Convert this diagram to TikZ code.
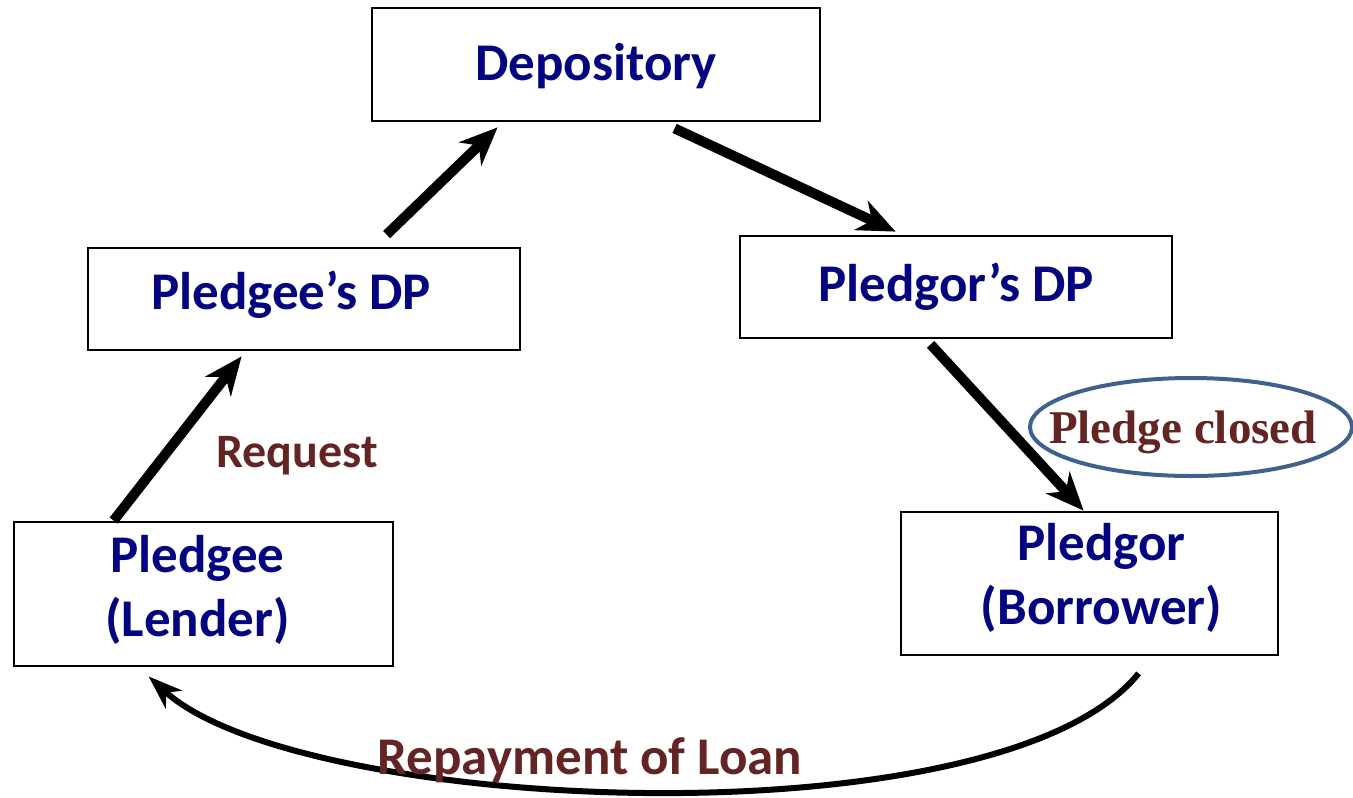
\documentclass[tikz,border=0pt]{standalone}
\usepackage{fontspec}
\setmainfont{Carlito}
\newfontfamily\serifbold{Liberation Serif}
\usetikzlibrary{arrows.meta,shapes.geometric,calc}
\definecolor{navy}{RGB}{4,4,128}
\definecolor{maroon}{RGB}{99,37,35}
\definecolor{ringblue}{RGB}{62,98,144}
\begin{document}
\begin{tikzpicture}[x=1pt,y=-1pt,
  box/.style={draw=black,line width=2.8pt,fill=white,inner sep=0pt},
  boxtext/.style={font=\fontsize{53}{64}\selectfont\bfseries,text=navy,align=center},
  note/.style={font=\fontsize{48}{56}\selectfont\bfseries,text=maroon},
  flow/.style={line width=10pt,-{Stealth[length=38pt,width=32pt,inset=12pt]}},
  loop/.style={line width=6pt,-{Stealth[length=34pt,width=24pt,inset=10pt]}}]
\useasboundingbox (0,0) rectangle (1353,798);

% boxes
\node[box,minimum width=448,minimum height=113,
      label={[boxtext,yshift=-2]center:Depository}] (dep) at (596,64.5) {};
\node[box,minimum width=432,minimum height=102,
      label={[boxtext,xshift=-13,yshift=4]center:Pledgee’s DP}] (pdp) at (304,299) {};
\node[box,minimum width=432,minimum height=102,
      label={[boxtext]center:Pledgor’s DP}] (gdp) at (956,287) {};
\node[box,minimum width=379,minimum height=144,
      label={[boxtext,xshift=-6,yshift=4]center:Pledgee\\(Lender)}] (lender) at (203.5,594) {};
\node[box,minimum width=377,minimum height=143,
      label={[boxtext,xshift=12,yshift=6]center:Pledgor\\(Borrower)}] (borrower) at (1089.5,583.5) {};

% flow of the pledge
\draw[flow] ($(lender.north west)+(101,0)$) -- ($(pdp.south west)+(155,5)$);
\draw[flow] ($(pdp.north west)+(300,-12)$) -- ($(dep.south west)+(127,5)$);
\draw[flow] ($(dep.south west)+(304,6)$) -- ($(gdp.north west)+(157,-3)$);
\draw[flow] ($(gdp.south west)+(192,5)$) -- ($(borrower.north west)+(184,0)$);

% repayment back to the lender
\draw[loop] ($(borrower.south west)+(239,17)$) .. controls (1000,845) and (300,815) .. ($(lender.south west)+(136,9)$);

% labels
\node[note] (req) at (297,456) {Request};
\node[note,font=\fontsize{53}{60}\selectfont\bfseries] (repay) at (590,760) {Repayment of Loan};
\node[ellipse,draw=ringblue,line width=4pt,minimum width=322,minimum height=98,inner sep=0pt,
      label={[text=maroon,font=\fontsize{47}{56}\selectfont\serifbold\bfseries,xshift=-8,yshift=-5]center:Pledge closed}]
      (closed) at (1191,427) {};
\end{tikzpicture}
\end{document}
